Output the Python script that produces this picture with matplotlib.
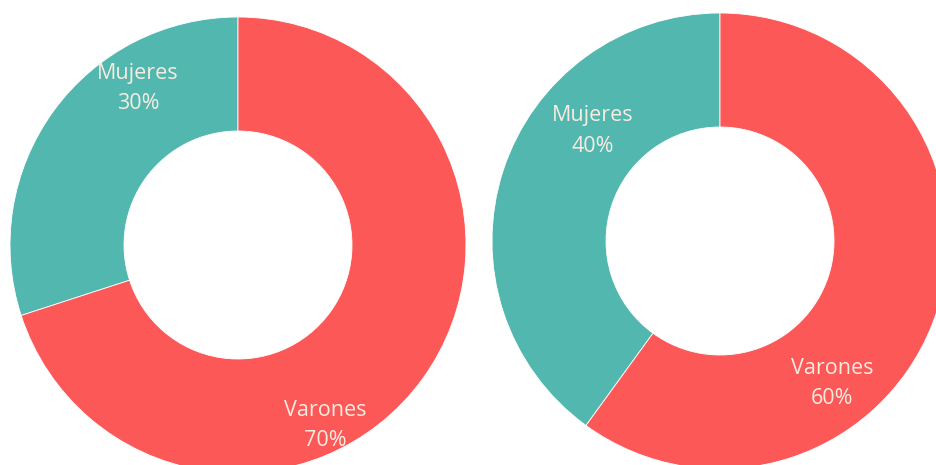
import matplotlib
matplotlib.use("Agg")
import matplotlib.pyplot as plt

labels = ["Mujeres", "Varones"]
left_values = [30, 70]
right_values = [40, 60]
colors = ["#52b7ae", "#fd5858"]

plt.rcParams['font.family'] = ['Open Sans', 'DejaVu Sans']

W, H = 937, 465
fig = plt.figure(figsize=(W / 100, H / 100), dpi=100)


def donut(cx, cy, r, values, label_pos):
    # cx, cy, r in pixels (y from top)
    ax = fig.add_axes([(cx - r) / W, (H - cy - r) / H, 2 * r / W, 2 * r / H])
    ax.pie(values, colors=colors, startangle=90, counterclock=True, radius=1,
           wedgeprops=dict(width=0.5, edgecolor="white", linewidth=0.6))
    ax.set_xlim(-1, 1)
    ax.set_ylim(-1, 1)
    ax.set_aspect("equal")
    ax.axis("off")
    for name, v, (px, py) in zip(labels, values, label_pos):
        x = (px - cx) / r
        y = (cy - py) / r
        ax.text(x, y, name, ha="center", va="center", color="#f8ece0", fontsize=15.5)
        ax.text(x, y - 30 / r, "%d%%" % v, ha="center", va="center", color="#f8ece0", fontsize=15.5)


donut(238, 245, 228, left_values, [(138, 73), (325, 410)])
donut(720, 241, 228, right_values, [(593, 116), (832, 368)])

fig.savefig("out.png", dpi=100)
